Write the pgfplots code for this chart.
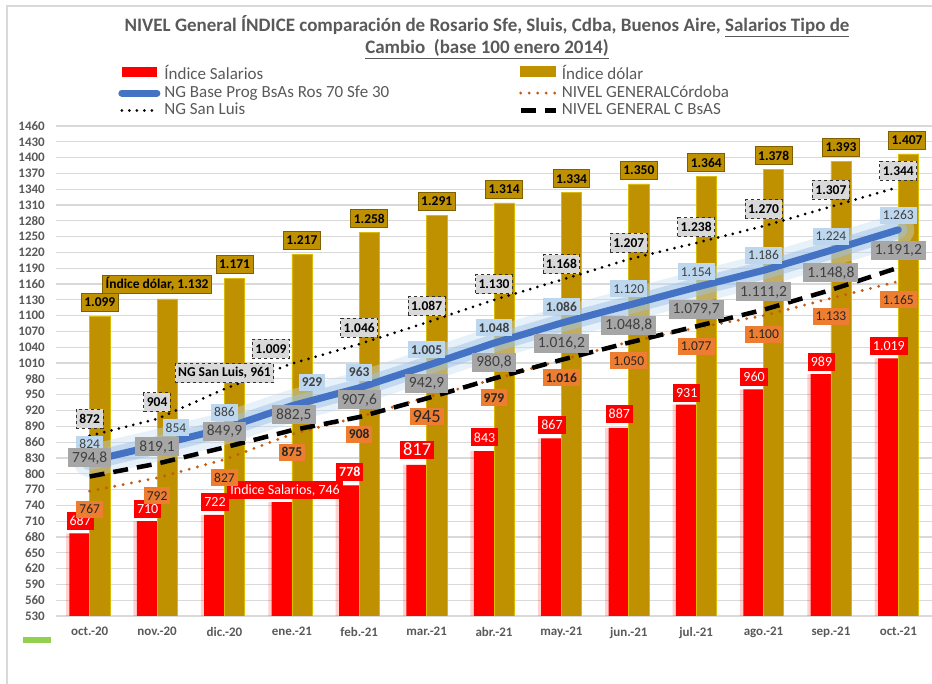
\documentclass[border=0pt]{standalone}
\usepackage{fontspec}
\setmainfont{Carlito}
\usepackage{pgfplots}
\usepackage{pgfplotstable}
\pgfplotsset{compat=1.18}
\definecolor{cRed}{HTML}{FF0000}
\definecolor{cGold}{HTML}{BF9000}
\definecolor{cGoldEdge}{HTML}{7F6000}
\definecolor{cBlue}{HTML}{4472C4}
\definecolor{cGlow}{HTML}{9DC3E6}
\definecolor{cOrange}{HTML}{C55A11}
\definecolor{cOrangeLab}{HTML}{ED7D31}
\definecolor{cLBlue}{HTML}{BDD7EE}
\definecolor{cGreyLab}{HTML}{A6A6A6}
\definecolor{cSLLab}{HTML}{D9D9D9}
\definecolor{cGrid}{HTML}{D9D9D9}
\definecolor{cTick}{HTML}{595959}
\definecolor{cGreen}{HTML}{92D050}
\newcommand\bignum[1]{{\fontsize{18.5}{19}\selectfont #1}}

\pgfplotstableread{
x sal dol blue cba sl bsas
0 687 1099 824 767 872 794.8
1 710 1132 854 792 904 819.1
2 722 1171 886 827 961 849.9
3 746 1217 929 875 1009 882.5
4 778 1258 963 908 1046 907.6
5 817 1291 1005 945 1087 942.9
6 843 1314 1048 979 1130 980.8
7 867 1334 1086 1016 1168 1016.2
8 887 1350 1120 1050 1207 1048.8
9 931 1364 1154 1077 1238 1079.7
10 960 1378 1186 1100 1270 1111.2
11 989 1393 1224 1133 1307 1148.8
12 1019 1407 1263 1165 1344 1191.2
}\data

\pgfplotstableread{
x y t
-0.14 711 687
0.86 734 710
1.86 746 722
2.9 770 {Índice Salarios, 746}
3.86 803 \textbf{778}
4.86 846 \bignum{817}
5.86 869 843
6.86 892 867
7.86 913 887
8.86 953 931
9.86 984 960
10.86 1012 989
11.86 1042 {1.019}
}\redlab

\pgfplotstableread{
x y t
0.15 1125 {1.099}
1.0 1160 {Índice dólar, 1.132}
2.15 1197 {1.171}
3.15 1243 {1.217}
4.15 1284 {1.258}
5.15 1317 {1.291}
6.15 1340 {1.314}
7.15 1360 {1.334}
8.15 1376 {1.350}
9.15 1390 {1.364}
10.15 1404 {1.378}
11.15 1419 {1.393}
12.13 1433 {1.407}
}\goldlab

\pgfplotstableread{
x y t
0 856 824
1.28 887 854
2 917 886
3.3 974 \textbf{929}
4 993 \textbf{963}
5 1035 \textbf{1.005}
6 1077 \textbf{1.048}
7 1117 \textbf{1.086}
8 1151 {1.120}
9 1183 {1.154}
10 1215 {1.186}
11 1251 {1.224}
12 1291 {1.263}
}\bluelab

\pgfplotstableread{
x y t
0 830 {794,8}
1 851 {819,1}
2 881 {849,9}
3.03 912 {882,5}
4 940 {907,6}
5 972 {942,9}
6 1012 {980,8}
7 1048 {1.016,2}
8 1082 {1.048,8}
9 1111 {1.079,7}
10 1145 {1.111,2}
11 1181 {1.148,8}
12 1223 {1.191,2}
}\bsaslab

\pgfplotstableread{
x y t
0 733 767
1 758 792
2 792 827
3 841 \textbf{875}
4 875 \textbf{908}
5 908 \bignum{945}
6 944 \textbf{979}
7 982 \textbf{1.016}
8 1014 {1.050}
9 1042 {1.077}
10 1065 {1.100}
11 1099 {1.133}
12 1130 {1.165}
}\cbalab

\pgfplotstableread{
x y t
0 904 872
1 936 904
2 991 {NG San Luis, 961}
2.69 1037 {1.009}
4 1077 {1.046}
5 1118 {1.087}
6 1160 {1.130}
7 1198 {1.168}
8 1238 {1.207}
9 1268 {1.238}
10 1302 {1.270}
11 1339 {1.307}
12 1375 {1.344}
}\sllab

\pgfplotsset{
  lineleg/.style={legend image code/.code={\draw[##1] (0pt,0pt) -- (35pt,0pt);}},
  labs/.style={draw=none, mark=none, forget plot, nodes near coords,
    point meta=explicit symbolic,
    nodes near coords style={anchor=center, minimum height=18pt, inner xsep=3pt, inner ysep=1pt, #1}},
}

\begin{document}
\begin{tikzpicture}[x=1pt,y=1pt]
\useasboundingbox (0,0) rectangle (932,684);
\draw[cGrid, line width=1.2pt] (7,0) -- (7,678) -- (932,678);
\fill[cGreen] (23,41) rectangle (51,47);
\node[align=center, text=cTick, font=\bfseries\fontsize{19}{22}\selectfont] at (487,647)
  {NIVEL General ÍNDICE comparación de Rosario Sfe, Sluis, Cdba, Buenos Aire, \underline{Salarios Tipo de}\\
   \underline{Cambio\ \ (base 100 enero 2014)}};
\begin{axis}[
  at={(56pt,68pt)}, anchor=south west,
  width=876pt, height=490pt, scale only axis,
  xmin=-0.5, xmax=12.5, ymin=530, ymax=1460,
  ytick={530,560,...,1460},
  xtick={0,...,12},
  xticklabels={oct.-20,nov.-20,dic.-20,ene.-21,feb.-21,mar.-21,abr.-21,may.-21,jun.-21,jul.-21,ago.-21,sep.-21,oct.-21},
  ymajorgrids, grid style={cGrid, line width=1.2pt},
  axis line style={draw=none},
  major tick length=0pt,
  tick label style={font=\bfseries\fontsize{13}{14}\selectfont, text=cTick, inner sep=0pt},
  yticklabel style={anchor=east, xshift=-11pt},
  xticklabel style={anchor=north, yshift=-11pt},
  /pgf/number format/assume math mode=true,
  /pgf/number format/1000 sep={},
  legend columns=2,
  legend cell align=left,
  legend style={at={(0.071,1.1224)}, anchor=north west, draw=none, fill=none, inner sep=0pt,
    font=\fontsize{17}{18}\selectfont, text=cTick,
    nodes={inner sep=0pt, text height=12pt, text depth=4pt},
    row sep=1.5pt,
    /tikz/every odd column/.append style={column sep=4pt}},
]
% red glow
\addplot[ybar, bar width=0.38, bar shift=-0.16, fill=cRed, draw=none, opacity=0.18, forget plot] table[x=x,y=sal] \data;
\addplot[ybar, bar width=0.3, bar shift=-0.15, fill=cRed, draw=none,
  legend image code/.code={\fill[cRed] (0pt,-1pt) rectangle (35pt,9pt);}] table[x=x,y=sal] \data;
\addlegendentry{\makebox[354pt][l]{Índice Salarios}}
\addplot[ybar, bar width=0.3, bar shift=0.15, fill=cGold, draw=cGold!60!yellow, line width=0.6pt,
  legend image code/.code={\fill[cGold] (0pt,-1pt) rectangle (35pt,9pt);}] table[x=x,y=dol] \data;
\addlegendentry{Índice dólar}
% blue glow
\addplot[cGlow!60, opacity=0.4, line width=32pt, line cap=round, forget plot] table[x=x,y=blue] \data;
\addplot[cGlow, opacity=0.5, line width=18pt, line cap=round, forget plot] table[x=x,y=blue] \data;
\addplot[cBlue, line width=7pt, line cap=round, lineleg] table[x=x,y=blue] \data;
\addlegendentry{\makebox[354pt][l]{NG Base Prog BsAs Ros 70 Sfe 30}}
\addplot[cOrange, line width=3.2pt, line cap=round, dash pattern=on 0pt off 8.5pt, lineleg] table[x=x,y=cba] \data;
\addlegendentry{NIVEL GENERALCórdoba}
\addplot[black, line width=3pt, line cap=round, dash pattern=on 0pt off 7.5pt, lineleg] table[x=x,y=sl] \data;
\addlegendentry{\makebox[354pt][l]{NG San Luis}}
\addplot[black, line width=4.5pt, dash pattern=on 15pt off 9pt, lineleg] table[x=x,y=bsas] \data;
\addlegendentry{NIVEL GENERAL C BsAS}
% labels
\addplot[labs={fill=cGold, draw=cGoldEdge, line width=1pt, text=black, font=\bfseries\fontsize{13.5}{14}\selectfont}] table[x=x,y=y,meta=t] \goldlab;
\addplot[labs={fill=cRed, text=white, font=\fontsize{14}{15}\selectfont}] table[x=x,y=y,meta=t] \redlab;
\addplot[labs={fill=cSLLab, draw=black!80, dashed, line width=0.8pt, text=black, font=\bfseries\fontsize{13.5}{14}\selectfont, minimum height=19pt}] table[x=x,y=y,meta=t] \sllab;
\addplot[labs={fill=cLBlue, text=black!75, font=\fontsize{13.5}{14}\selectfont, minimum height=17pt}] table[x=x,y=y,meta=t] \bluelab;
\addplot[labs={fill=cOrangeLab, text=black!85, font=\fontsize{13.5}{14}\selectfont, minimum height=17pt}] table[x=x,y=y,meta=t] \cbalab;
\addplot[labs={fill=cGreyLab, text=black!75, font=\fontsize{15.5}{16}\selectfont, minimum height=19pt, inner xsep=4pt}] table[x=x,y=y,meta=t] \bsaslab;
\end{axis}
\end{tikzpicture}
\end{document}
